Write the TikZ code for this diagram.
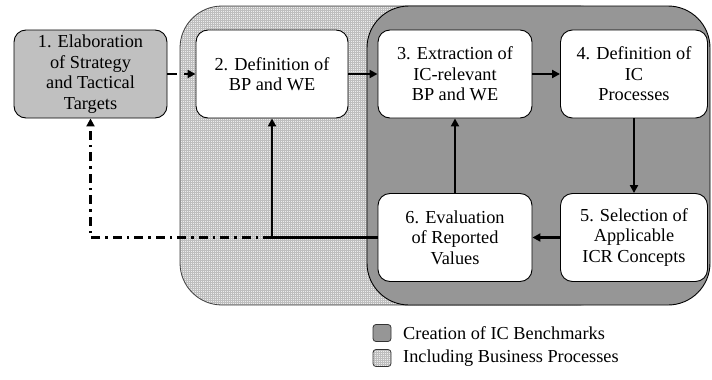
\documentclass[tikz,border=0pt]{standalone}
\usepackage{fontspec}
\setmainfont{Liberation Serif}
\usetikzlibrary{arrows.meta,patterns.meta}
\definecolor{darkreg}{RGB}{150,150,150}
\definecolor{boxone}{RGB}{192,192,192}
\definecolor{lightreg}{RGB}{236,236,236}
\definecolor{gridcol}{RGB}{190,190,190}
\begin{document}
\begin{tikzpicture}[x=1pt,y=-1pt,
  txt/.style={font=\fontsize{18.3}{20.5}\selectfont, text=black},
  stepbox/.style={txt, draw=black, line width=0.9pt, rounded corners=12pt, fill=white,
    align=center, inner sep=0pt, minimum height=88pt},
  conn/.style={line width=2.4pt, -{Triangle[length=8pt,width=8pt]}},
  lightfill/.style={preaction={fill=lightreg}, pattern={Hatch[distance=2pt, line width=0.35pt]}, pattern color=gridcol},
  legbox/.style={draw=black!80, line width=0.8pt, rounded corners=3pt, minimum width=18pt, minimum height=17pt, inner sep=0pt},
]
\useasboundingbox (0,0) rectangle (712,380);
% regions
\draw[draw=black!75, line width=0.8pt, rounded corners=42pt, lightfill] (180,6) rectangle (620,305);
\draw[draw=black, line width=0.9pt, rounded corners=42pt, fill=darkreg] (367,6) rectangle (710,305);
% boxes
\node[stepbox, fill=boxone, minimum width=153pt] (b1) at (90.5,74) {1. Elaboration\\of Strategy\\and Tactical\\Targets};
\node[stepbox, minimum width=152pt] (b2) at (272,74) {2. Definition of\\BP and WE};
\node[stepbox, minimum width=154pt] (b3) at (455,74) {3. Extraction of\\IC-relevant\\BP and WE};
\node[stepbox, minimum width=147pt] (b4) at (634,74) {4. Definition of\\IC\\Processes};
\node[stepbox, minimum width=147pt] (b5) at (634,237.5) {5. Selection of\\Applicable\\ICR Concepts};
\node[stepbox, minimum width=154pt] (b6) at (455,237.5) {6. Evaluation\\of Reported\\Values};
% connectors
\draw[conn, dash pattern=on 10pt off 7pt] (b1.east) -- (b2.west);
\draw[conn] (b2.east) -- (b3.west);
\draw[conn] (b3.east) -- (b4.west);
\draw[conn] (b4.south) -- (b5.north);
\draw[conn] (b5.west) -- (b6.east);
\draw[conn] (b6.north) -- (b3.south);
\coordinate (j) at (b2.south |- b6.west);
\draw[conn] (b6.west) -| (b2.south);
\draw[conn, dash pattern=on 9pt off 5pt on 2.5pt off 5pt] (j) -| (b1.south);
% legend
\node[legbox, fill=darkreg] (l1) at (382,333) {};
\node[txt, anchor=west, inner sep=0pt] (t1) at (403,333) {Creation of IC Benchmarks};
\node[legbox, lightfill] (l2) at (382,358) {};
\node[txt, anchor=west, inner sep=0pt] (t2) at (403,358) {Including Business Processes};
\end{tikzpicture}
\end{document}
